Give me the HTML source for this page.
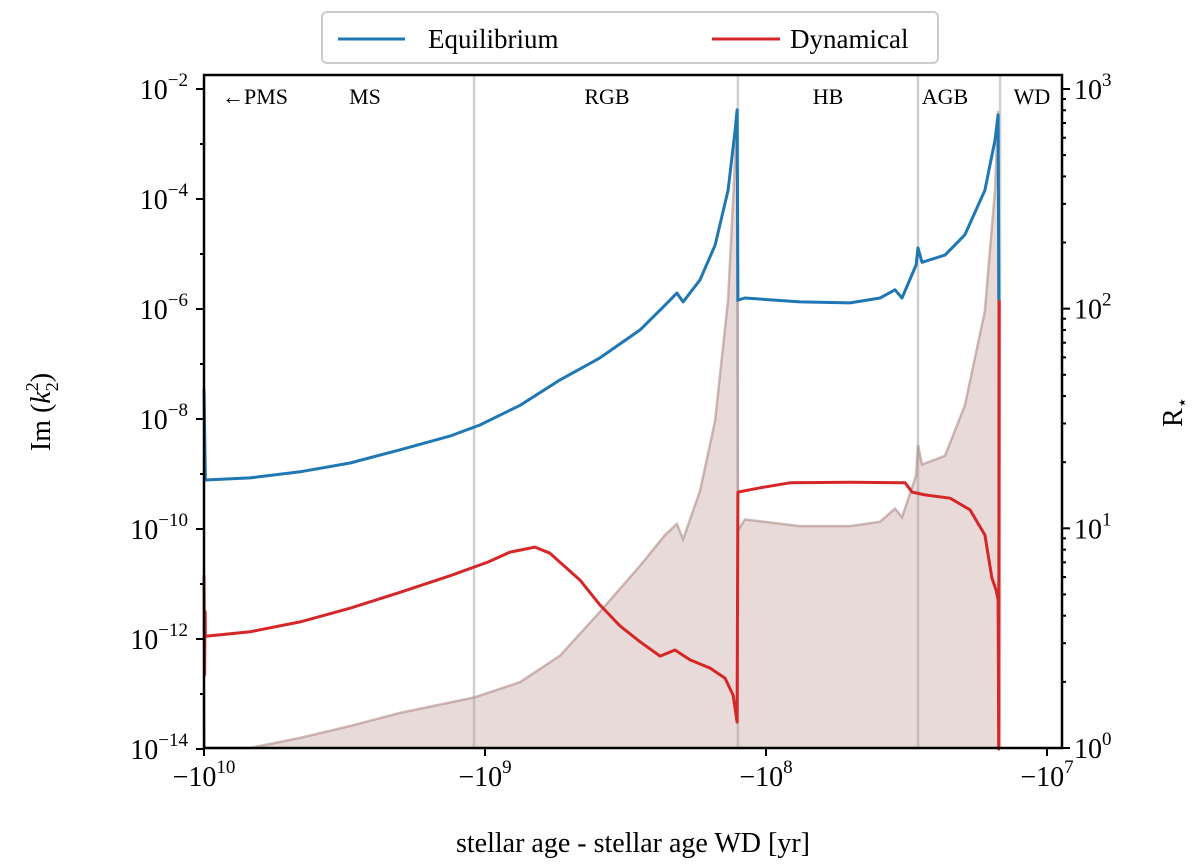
<!DOCTYPE html>
<html><head><meta charset="utf-8"><style>
body{margin:0;background:#fff;}
svg{display:block;font-family:"Liberation Serif",serif;}
</style></head><body>
<svg id="c" width="1200" height="868"></svg>
<script>
const eqLogT=[10.0,9.995,9.836,9.658,9.48,9.302,9.125,9.018,8.875,8.733,8.591,8.448,8.359,8.317,8.295,8.235,8.181,8.135,8.11,8.103,8.1,8.075,7.879,7.701,7.594,7.541,7.516,7.466,7.459,7.445,7.363,7.292,7.221,7.185,7.174,7.171];
const eqLogV=[-7.45,-9.11,-9.07,-8.96,-8.8,-8.56,-8.31,-8.11,-7.75,-7.29,-6.89,-6.38,-5.93,-5.71,-5.87,-5.47,-4.84,-3.84,-2.75,-2.38,-5.84,-5.8,-5.87,-5.89,-5.8,-5.65,-5.8,-5.2,-4.89,-5.15,-5.02,-4.65,-3.84,-2.93,-2.47,-5.84];
const dyLogT=[10.0,9.998,9.996,9.995,9.836,9.658,9.48,9.302,9.125,8.989,8.911,8.822,8.769,8.662,8.591,8.52,8.448,8.377,8.324,8.27,8.199,8.146,8.117,8.103,8.1,8.021,7.915,7.701,7.505,7.48,7.434,7.345,7.274,7.221,7.196,7.181,7.174,7.172,7.17];
const dyLogV=[-10.84,-12.65,-11.5,-11.95,-11.87,-11.69,-11.44,-11.15,-10.85,-10.6,-10.42,-10.33,-10.44,-10.93,-11.38,-11.76,-12.05,-12.31,-12.2,-12.38,-12.53,-12.71,-13.02,-13.51,-9.33,-9.25,-9.16,-9.15,-9.16,-9.33,-9.38,-9.44,-9.65,-10.11,-10.89,-11.11,-11.29,-14,-5.84];
const rLogT=[10.0,9.998,9.836,9.658,9.48,9.302,9.039,8.875,8.733,8.591,8.448,8.359,8.317,8.295,8.235,8.181,8.135,8.11,8.103,8.1,8.075,7.879,7.701,7.594,7.541,7.516,7.466,7.459,7.445,7.363,7.292,7.221,7.185,7.174,7.171];
const rLogR=[0.26,0,0,0.046,0.1,0.16,0.23,0.3,0.42,0.62,0.83,0.97,1.02,0.95,1.17,1.49,2.04,2.68,2.9,0.99,1.04,1.01,1.01,1.03,1.09,1.05,1.24,1.38,1.29,1.33,1.56,1.99,2.54,2.9,0];
const leftTicks=[-2,-4,-6,-8,-10,-12,-14];
const rightTicks=[0,1,2,3];
const xTicks=[10,9,8,7];
const phaseBounds=[9.039,8.1,7.459,7.167];
const phaseLabels=[["←PMS",255],["MS",365],["RGB",607],["HB",828],["AGB",945],["WD",1032]];

const L=204,R=1062,T=75,B=748;
const X=lt=>1047-(lt-7)*281;
const YL=lv=>89+(-2-lv)*55;
const YR=lr=>748-lr*219.67;
const s=document.getElementById('c');
const NS='http://www.w3.org/2000/svg';
function el(t,a,p){const e=document.createElementNS(NS,t);for(const k in a)e.setAttribute(k,a[k]);(p||s).appendChild(e);return e;}

let d='M'+X(rLogT[0])+','+B;
rLogT.forEach((t,i)=>{d+=' L'+X(t).toFixed(1)+','+YR(rLogR[i]).toFixed(1);});
d+=' L'+X(rLogT[rLogT.length-1])+','+B+' Z';
const rf=el('path',{d:d,fill:'rgba(180,140,135,0.32)',stroke:'none'});


let d2='';rLogT.forEach((t,i)=>{d2+=(i?' L':'M')+X(t).toFixed(1)+','+YR(rLogR[i]).toFixed(1);});
const rl=el('path',{d:d2,fill:'none',stroke:'rgba(170,130,125,0.55)','stroke-width':2.5});



phaseBounds.forEach(b=>{const ln=el('line',{x1:X(b),x2:X(b),y1:T,y2:B,stroke:'rgba(150,150,150,0.45)','stroke-width':2.5});

});
phaseLabels.forEach(p=>{const t=el('text',{x:p[1],y:104,'font-size':22,'text-anchor':'middle'});t.textContent=p[0];

});

function line(tx,vy,col,name){let dd='';tx.forEach((t,i)=>{dd+=(i?' L':'M')+X(t).toFixed(1)+','+YL(vy[i]).toFixed(1);});
const p=el('path',{d:dd,fill:'none',stroke:col,'stroke-width':3,'stroke-linejoin':'round'});

}
line(dyLogT,dyLogV,'#d62728','dynamical-line');
line(eqLogT,eqLogV,'#1f77b4','equilibrium-line');

const fr=el('rect',{x:L,y:T,width:R-L,height:B-T,fill:'none',stroke:'#000','stroke-width':2.5});



function sup(x,y,base,exp,anchor,name){const t=el('text',{x:x,y:y,'font-size':28,'text-anchor':anchor});
t.innerHTML=base+'<tspan font-size="19" dy="-13">'+exp+'</tspan>';

}
for(let v=-14;v<=-2;v++){const y=YL(v);const mj=v%2===0;el('line',{x1:L,x2:L-(mj?8:4),y1:y,y2:y,stroke:'#000','stroke-width':2});}
leftTicks.forEach(v=>sup(188,YL(v)+10,'10','−'+(-v),'end','left-tick-label'));
for(let dcd=0;dcd<3;dcd++){for(let m=1;m<10;m++){const y=YR(dcd+Math.log10(m));el('line',{x1:R,x2:R+(m===1?8:4),y1:y,y2:y,stroke:'#000','stroke-width':2});}}
el('line',{x1:R,x2:R+8,y1:YR(3),y2:YR(3),stroke:'#000','stroke-width':2});
rightTicks.forEach(v=>sup(1074,YR(v)+10,'10',String(v),'start','right-tick-label'));
xTicks.forEach(v=>{const x=X(v);el('line',{x1:x,x2:x,y1:B,y2:B+8,stroke:'#000','stroke-width':2});sup(x,786,'−10',String(v),'middle','x-tick-label');});

const xt=el('text',{x:633,y:852,'font-size':28,'text-anchor':'middle'});xt.textContent='stellar age - stellar age WD [yr]';


const yt=el('text',{transform:'translate(50,412) rotate(-90)','font-size':28,'text-anchor':'middle'});
yt.innerHTML='Im (<tspan font-style="italic">k</tspan><tspan font-size="18" dy="8">2</tspan><tspan font-size="18" dx="-9" dy="-20">2</tspan><tspan dy="12">)</tspan>';


const rt=el('text',{transform:'translate(1182,412) rotate(-90)','font-size':28,'text-anchor':'middle'});
rt.innerHTML='R<tspan font-size="18" dy="6">⋆</tspan>';



const lg=el('g',{});


el('rect',{x:322,y:12,width:616,height:51,rx:5,fill:'#fff',stroke:'#ccc','stroke-width':2},lg);
el('line',{x1:338,x2:405,y1:39,y2:39,stroke:'#1f77b4','stroke-width':3},lg);
const t1=el('text',{x:428,y:48,'font-size':27},lg);t1.textContent='Equilibrium';


el('line',{x1:712,x2:780,y1:39,y2:39,stroke:'#d62728','stroke-width':3},lg);
const t2=el('text',{x:790,y:48,'font-size':27},lg);t2.textContent='Dynamical';


</script>
</body></html>
